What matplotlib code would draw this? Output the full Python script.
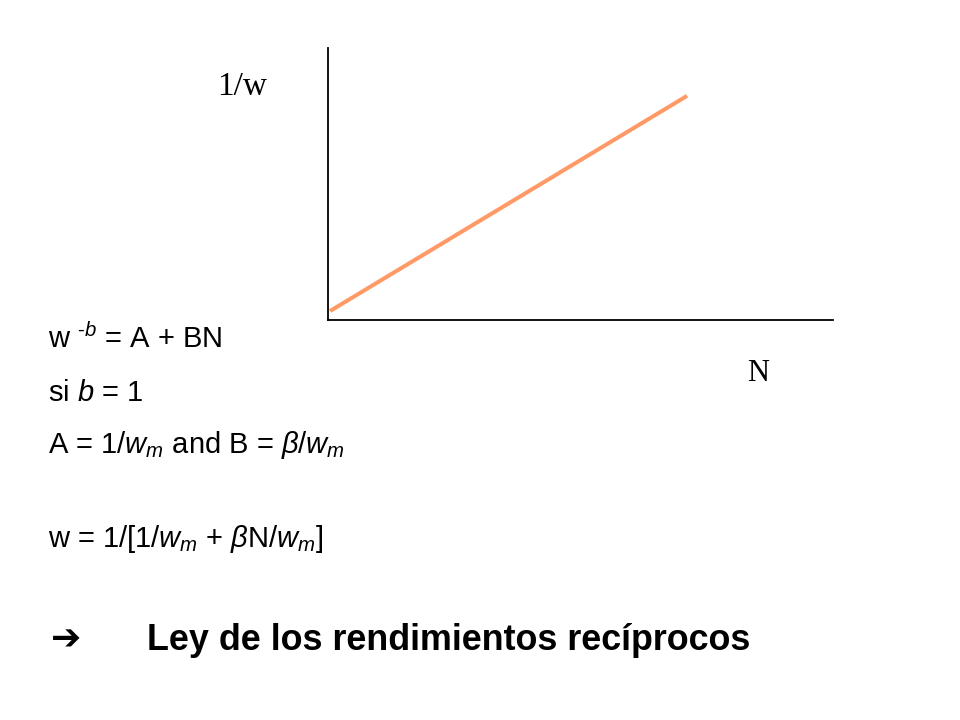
import matplotlib
matplotlib.use("Agg")
import matplotlib.pyplot as plt

plt.rcParams['mathtext.fontset'] = 'custom'
plt.rcParams['mathtext.rm'] = 'Liberation Sans'
plt.rcParams['mathtext.it'] = 'Liberation Sans:italic'

# recta 1/w frente a N
N = [0.04, 7.11]
inv_w = [0.33, 8.24]

x_label = "N"
y_label = "1/w"

lines = [
    "w $^{\\mathrm{\u2010}b}$ = A + BN",
    r"si $b$ = 1",
    r"A = 1/$w_m$ and B = $\beta$/$w_m$",
    r"w = 1/[1/$w_m$ + $\beta$N/$w_m$]",
]
conclusion = "Ley de los rendimientos recíprocos"

fig = plt.figure(figsize=(9.6, 7.2), dpi=100)
ax = fig.add_axes([328 / 960, 1 - 320 / 720, 505 / 960, 272 / 720])
ax.plot(N, inv_w, color="#FF9966", lw=2.9, solid_capstyle="butt")
ax.set_xlim(0, 10)
ax.set_ylim(0, 10)
ax.set_xticks([])
ax.set_yticks([])
ax.spines["top"].set_visible(False)
ax.spines["right"].set_visible(False)
ax.spines["left"].set_linewidth(1.3)
ax.spines["bottom"].set_linewidth(1.3)

fig.text(217 / 960, 1 - 95 / 720, y_label, family="Liberation Serif", fontsize=24,
         va="baseline")
fig.text(747 / 960, 1 - 381 / 720, x_label, family="Liberation Serif", fontsize=22,
         va="baseline")

baselines = [348, 401, 453, 547]
for txt, yb in zip(lines, baselines):
    fig.text(48 / 960, 1 - yb / 720, txt, family="Liberation Sans", fontsize=21,
             va="baseline")

fig.text(51 / 960, 1 - 650 / 720, "\u2794", family="DejaVu Sans", fontsize=26,
         fontweight="bold", va="baseline")
fig.text(147 / 960, 1 - 650 / 720, conclusion, family="Liberation Sans",
         fontsize=25.8, fontweight="bold", va="baseline")

fig.savefig("out.png", dpi=100)
